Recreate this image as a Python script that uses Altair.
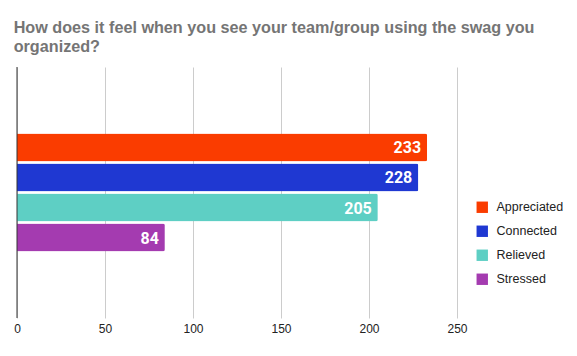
import altair as alt
import pandas as pd

series = ["Appreciated", "Connected", "Relieved", "Stressed"]
values = [233, 228, 205, 84]
colors = ["#fa3c00", "#1f38d2", "#5ecfc4", "#a43bb0"]
x_ticks = [0, 50, 100, 150, 200, 250]
title_lines = ["How does it feel when you see your team/group using the swag you", "organized?"]

df = pd.DataFrame({"cat": [""] * len(series), "series": series, "value": values})

y_enc = alt.Y("cat:N", axis=None, scale=alt.Scale(paddingInner=0, paddingOuter=0.5636))
yoff_enc = alt.YOffset("series:N", sort=series,
                       scale=alt.Scale(paddingInner=0.067, paddingOuter=0))
x_scale = alt.Scale(domain=[0, 250], nice=False)

bars = alt.Chart(df).mark_bar(cornerRadiusEnd=2).encode(
    x=alt.X("value:Q", scale=x_scale,
            axis=alt.Axis(values=x_ticks, title=None, domain=False, ticks=False,
                          grid=True, gridColor="#cccccc", labelColor="#222222",
                          labelFont="Liberation Sans", labelFontSize=12,
                          labelPadding=5, labelFlush=False)),
    y=y_enc,
    yOffset=yoff_enc,
    color=alt.Color("series:N", sort=series,
                    scale=alt.Scale(domain=series, range=colors),
                    legend=alt.Legend(title=None, orient="none", legendX=459, legendY=134,
                                      symbolType="square", symbolSize=130,
                                      symbolStrokeWidth=0, labelFont="Liberation Sans",
                                      labelFontSize=12.5, labelColor="#222222",
                                      rowPadding=11, labelOffset=8)),
)

labels = alt.Chart(df).mark_text(align="right", baseline="middle", dx=-6, dy=1,
                                 color="white", font="Roboto", fontWeight="bold",
                                 fontSize=16).encode(
    x=alt.X("value:Q", scale=x_scale),
    y=y_enc,
    yOffset=yoff_enc,
    text="value:Q",
)

zero = alt.Chart(pd.DataFrame({"v": [0]})).mark_rule(color="#333333", strokeWidth=1).encode(
    x=alt.X("v:Q", scale=x_scale)
)

chart = alt.layer(bars, labels, zero).properties(
    width=440, height=251,
    autosize=alt.AutoSizeParams(type="none"),
    padding={"left": 9, "top": 59, "right": 112, "bottom": 26},
    title=alt.TitleParams(title_lines, anchor="start", font="Liberation Sans",
                          fontSize=16.2, fontWeight="bold", color="#757575",
                          offset=11, lineHeight=19),
).configure_view(stroke=None)

chart.save("out.html", embed_options={"renderer": "svg", "actions": False})
